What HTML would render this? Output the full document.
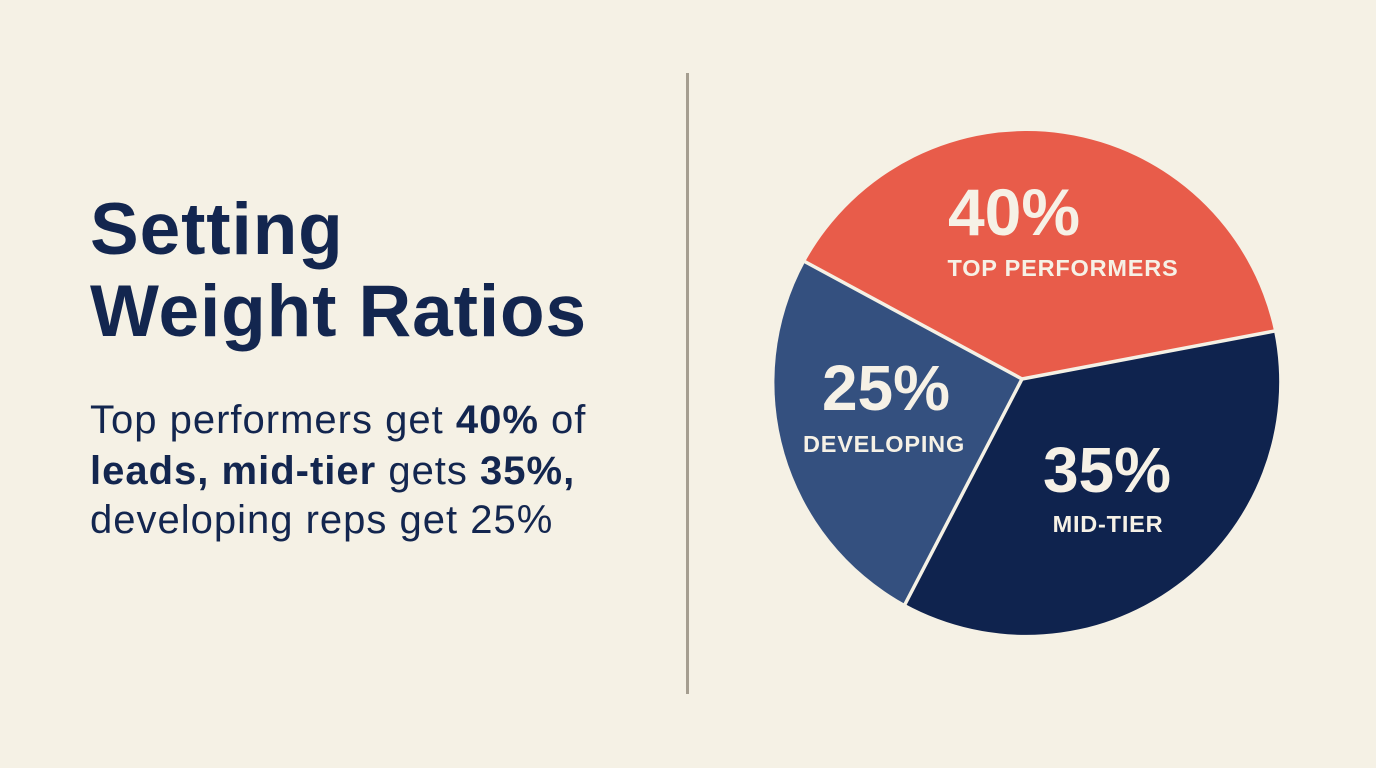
<!DOCTYPE html>
<html>
<head>
<meta charset="utf-8">
<style>
  html, body { margin: 0; padding: 0; }
  body { width: 1376px; height: 768px; background: #f5f1e5; overflow: hidden; position: relative; font-family: "Liberation Sans", sans-serif; }
  .title { position: absolute; left: 90px; color: #13264f; font-weight: bold; font-size: 73px; letter-spacing: 0.9px; white-space: nowrap; line-height: 1; }
  .body { position: absolute; left: 90px; color: #13264f; font-size: 40px; letter-spacing: 1px; white-space: nowrap; line-height: 1; }
  .body b { font-weight: bold; }
  .divider { position: absolute; left: 686px; top: 73px; width: 3px; height: 621px; background: #a59e90; }
</style>
</head>
<body>
  <div class="title" style="top:193px;">Setting</div>
  <div class="title" style="top:275px;">Weight Ratios</div>

  <div class="body" style="top:400px;">Top performers get <b>40%</b> of</div>
  <div class="body" style="top:451px;"><b>leads, mid-tier</b> gets <b>35%,</b></div>
  <div class="body" style="top:500px;">developing reps get 25%</div>

  <div class="divider"></div>

  <svg width="1376" height="768" style="position:absolute;left:0;top:0;" xmlns="http://www.w3.org/2000/svg">
    <path d="M1022,379 L805,262 A253,253 0 0 1 1274,331 Z" fill="#e85c4a"/>
    <path d="M1022,379 L1274,331 A253,253 0 0 1 905,604 Z" fill="#0f234e"/>
    <path d="M1022,379 L905,604 A253,253 0 0 1 805,262 Z" fill="#34507f"/>
    <g stroke="#f5f1e5" stroke-width="3.5" stroke-linecap="butt">
      <line x1="1022" y1="379" x2="800" y2="259"/>
      <line x1="1022" y1="379" x2="1280" y2="330"/>
      <line x1="1022" y1="379" x2="902" y2="610"/>
    </g>
    <g fill="#f6f1e6" font-family="Liberation Sans, sans-serif" font-weight="bold" text-anchor="middle">
      <text x="1014" y="235" font-size="66">40%</text>
      <text x="1063" y="276" font-size="23.5" letter-spacing="0.8">TOP PERFORMERS</text>
      <text x="886" y="410" font-size="64">25%</text>
      <text x="884" y="452" font-size="23.5" letter-spacing="0.8">DEVELOPING</text>
      <text x="1107" y="492" font-size="64">35%</text>
      <text x="1108" y="532" font-size="23.5" letter-spacing="0.8">MID-TIER</text>
    </g>
  </svg>
</body>
</html>
